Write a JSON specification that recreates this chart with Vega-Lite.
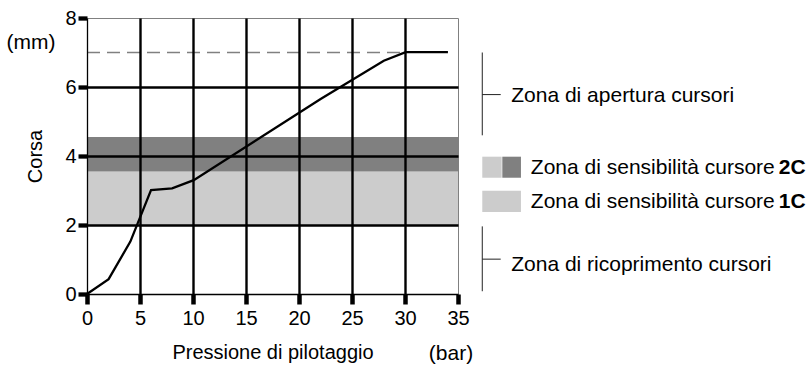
{
  "$schema": "https://vega.github.io/schema/vega-lite/v6.json",
  "width": 371,
  "height": 276,
  "autosize": {"type": "none"},
  "padding": {"left": 87, "top": 18, "right": 352, "bottom": 71},
  "background": "white",
  "config": {
    "font": "Liberation Sans",
    "view": {"stroke": "#808080", "strokeWidth": 1}
  },
  "datasets": {
    "bands": [
      {"x": 0, "x2": 35, "y": 2, "y2": 3.55, "c": "light"},
      {"x": 0, "x2": 35, "y": 3.55, "y2": 4.55, "c": "dark"},
      {"x": 37.29, "x2": 39.12, "y": 3.37, "y2": 3.98, "c": "light"},
      {"x": 39.18, "x2": 40.94, "y": 3.37, "y2": 3.98, "c": "dark"},
      {"x": 37.29, "x2": 40.94, "y": 2.38, "y2": 2.99, "c": "light"}
    ],
    "limit": [{"x": 0, "x2": 30, "y": 7}],
    "curve": [
      {"x": 0, "y": 0},
      {"x": 2.04, "y": 0.43},
      {"x": 4.09, "y": 1.52},
      {"x": 6.04, "y": 3.01},
      {"x": 8.03, "y": 3.06},
      {"x": 10.07, "y": 3.3},
      {"x": 22.04, "y": 5.65},
      {"x": 28.0, "y": 6.76},
      {"x": 30.06, "y": 7.01},
      {"x": 34.05, "y": 7.01}
    ],
    "brackets": [
      {"x": 37.29, "x2": 37.29, "y": 7.0, "y2": 4.6},
      {"x": 37.29, "x2": 39.03, "y": 5.78, "y2": 5.78},
      {"x": 37.29, "x2": 37.29, "y": 1.96, "y2": 0.08},
      {"x": 37.29, "x2": 39.03, "y": 1.01, "y2": 1.01}
    ],
    "notes": [
      {"x": 40.02, "y": 5.74, "t": "Zona di apertura cursori"},
      {"x": 40.02, "y": 0.855, "t": "Zona di ricoprimento cursori"},
      {"x": 41.87, "y": 3.64, "t": "Zona di sensibilità cursore"},
      {"x": 41.87, "y": 2.675, "t": "Zona di sensibilità cursore"}
    ],
    "boldnotes": [
      {"x": 67.8, "y": 3.64, "t": "2C"},
      {"x": 67.8, "y": 2.675, "t": "1C"}
    ],
    "units": [
      {"x": -5.28, "y": 7.28, "t": "(mm)"}
    ],
    "units2": [
      {"x": 34.34, "y": -1.91, "t": "(bar)"}
    ]
  },
  "layer": [
    {
      "data": {"name": "bands"},
      "mark": {"type": "rect"},
      "encoding": {
        "x": {
          "field": "x", "type": "quantitative",
          "scale": {"domain": [0, 35], "nice": false, "zero": false},
          "axis": {
            "title": "Pressione di pilotaggio",
            "values": [0, 2.5, 5, 7.5, 10, 12.5, 15, 17.5, 20, 22.5, 25, 27.5, 30, 32.5, 35],
            "labelExpr": "datum.value % 5 === 0 ? '' + datum.value : ''",
            "tickSize": 10,
            "tickWidth": {"condition": {"test": "datum.value % 5 === 0", "value": 4.5}, "value": 2},
            "tickColor": "black",
            "domainColor": "black",
            "domainWidth": 1.3,
            "grid": true,
            "gridColor": "black",
            "gridWidth": 2.4,
            "gridOpacity": {"condition": {"test": "datum.value % 5 === 0 && datum.value > 0 && datum.value < 35", "value": 1}, "value": 0},
            "labelFontSize": 20,
            "labelColor": "black",
            "labelPadding": 4,
            "labelFlush": false,
            "labelOverlap": false,
            "titleFontSize": 20,
            "titleFontWeight": "normal",
            "titleColor": "black",
            "titlePadding": 14,
            "zindex": 1
          }
        },
        "x2": {"field": "x2"},
        "y": {
          "field": "y", "type": "quantitative",
          "scale": {"domain": [0, 8], "nice": false, "zero": false},
          "axis": {
            "title": "Corsa",
            "values": [0, 1, 2, 3, 4, 5, 6, 7, 8],
            "labelExpr": "datum.value % 2 === 0 ? '' + datum.value : ''",
            "tickSize": 9,
            "tickWidth": {"condition": {"test": "datum.value % 2 === 0", "value": 4.3}, "value": 2},
            "tickColor": "black",
            "domainColor": "black",
            "domainWidth": 1.3,
            "grid": true,
            "gridColor": "black",
            "gridWidth": 2.4,
            "gridOpacity": {"condition": {"test": "datum.value === 2 || datum.value === 4 || datum.value === 6", "value": 1}, "value": 0},
            "labelFontSize": 20,
            "labelColor": "black",
            "labelPadding": 2,
            "labelOverlap": false,
            "titleFontSize": 20,
            "titleFontWeight": "normal",
            "titleColor": "black",
            "titlePadding": 19,
            "zindex": 1
          }
        },
        "y2": {"field": "y2"},
        "color": {
          "field": "c", "type": "nominal",
          "scale": {"domain": ["light", "dark"], "range": ["#cccccc", "#808080"]},
          "legend": null
        }
      }
    },
    {
      "data": {"name": "limit"},
      "mark": {"type": "rule", "color": "#808080", "strokeWidth": 1.5, "strokeDash": [13, 7]},
      "encoding": {
        "x": {"field": "x", "type": "quantitative"},
        "x2": {"field": "x2"},
        "y": {"field": "y", "type": "quantitative"}
      }
    },
    {
      "data": {"name": "curve"},
      "mark": {"type": "line", "color": "black", "strokeWidth": 2.3},
      "encoding": {
        "x": {"field": "x", "type": "quantitative"},
        "y": {"field": "y", "type": "quantitative"}
      }
    },
    {
      "data": {"name": "brackets"},
      "mark": {"type": "rule", "color": "#222222", "strokeWidth": 1},
      "encoding": {
        "x": {"field": "x", "type": "quantitative"},
        "x2": {"field": "x2"},
        "y": {"field": "y", "type": "quantitative"},
        "y2": {"field": "y2"}
      }
    },
    {
      "data": {"name": "notes"},
      "mark": {"type": "text", "align": "left", "baseline": "middle", "fontSize": 21, "color": "black"},
      "encoding": {
        "x": {"field": "x", "type": "quantitative"},
        "y": {"field": "y", "type": "quantitative"},
        "text": {"field": "t"}
      }
    },
    {
      "data": {"name": "boldnotes"},
      "mark": {"type": "text", "align": "right", "baseline": "middle", "fontSize": 21, "fontWeight": "bold", "color": "black"},
      "encoding": {
        "x": {"field": "x", "type": "quantitative"},
        "y": {"field": "y", "type": "quantitative"},
        "text": {"field": "t"}
      }
    },
    {
      "data": {"name": "units"},
      "mark": {"type": "text", "align": "center", "baseline": "middle", "fontSize": 21, "color": "black"},
      "encoding": {
        "x": {"field": "x", "type": "quantitative"},
        "y": {"field": "y", "type": "quantitative"},
        "text": {"field": "t"}
      }
    },
    {
      "data": {"name": "units2"},
      "mark": {"type": "text", "align": "center", "baseline": "alphabetic", "fontSize": 21, "color": "black"},
      "encoding": {
        "x": {"field": "x", "type": "quantitative"},
        "y": {"field": "y", "type": "quantitative"},
        "text": {"field": "t"}
      }
    }
  ]
}
